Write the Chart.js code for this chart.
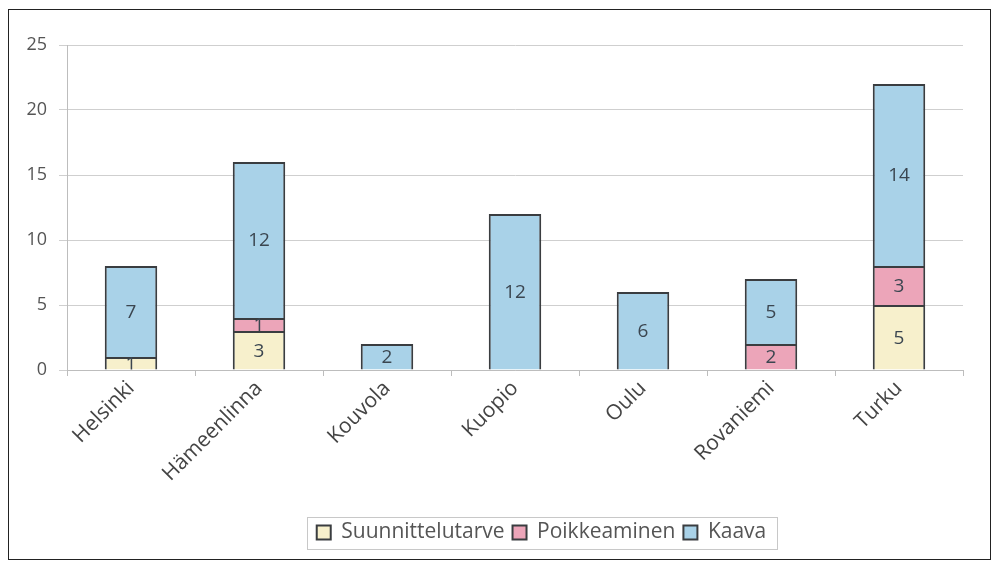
<!DOCTYPE html>
<html>
<head>
<meta charset="utf-8">
<script src="https://cdn.jsdelivr.net/npm/chart.js@4/dist/chart.umd.min.js"></script>
<style>
  html, body { margin: 0; padding: 0; background: #fff; }
  #wrap { width: 999px; height: 568px; }
</style>
</head>
<body>
<div id="wrap"><canvas id="kaavio" width="999" height="568"></canvas></div>
<script>
const kaupungit = ['Helsinki', 'Hämeenlinna', 'Kouvola', 'Kuopio', 'Oulu', 'Rovaniemi', 'Turku'];
const suunnittelutarve = [1, 3, 0, 0, 0, 0, 5];
const poikkeaminen = [0, 1, 0, 0, 0, 2, 3];
const kaava = [7, 12, 2, 12, 6, 5, 14];
const yTicks = [0, 5, 10, 15, 20, 25];

const fontti = '"Open Sans", Lato, sans-serif';
const reuna = '#3a3d40';

// arvot palkkien keskelle, leikattuna palkin sisään
const arvoTekstit = {
    id: 'arvoTekstit',
    afterDatasetsDraw(chart) {
        const ctx = chart.ctx;
        chart.data.datasets.forEach((ds, i) => {
            const meta = chart.getDatasetMeta(i);
            meta.data.forEach((bar, j) => {
                const v = ds.data[j];
                if (!v) return;
                const top = Math.min(bar.y, bar.base);
                const h = Math.abs(bar.base - bar.y);
                ctx.save();
                ctx.beginPath();
                ctx.rect(bar.x - bar.width / 2, top, bar.width, h);
                ctx.clip();
                ctx.font = '19px ' + fontti;
                ctx.textAlign = 'center';
                ctx.textBaseline = 'middle';
                ctx.fillStyle = '#3b4650';
                ctx.fillText(String(v), bar.x, top + h / 2 + 1);
                ctx.restore();
            });
        });
    }
};

// kehys ja legendan laatikko
const kehys = {
    id: 'kehys',
    afterLayout(chart) {
        // legenda hieman oikealle kuten alkuperäisessä
        chart.legend.left += 50;
        chart.legend.right += 50;
    },
    beforeDraw(chart) {
        const ctx = chart.ctx;
        ctx.save();
        ctx.fillStyle = '#fff';
        ctx.fillRect(0, 0, chart.width, chart.height);
        ctx.strokeStyle = '#222';
        ctx.lineWidth = 1;
        ctx.strokeRect(8.5, 9.5, 982, 550);
        ctx.restore();
    },
    afterDraw(chart) {
        const lg = chart.legend;
        const ctx = chart.ctx;
        let minX = Infinity, maxX = -Infinity;
        lg.legendHitBoxes.forEach(b => {
            minX = Math.min(minX, b.left);
            maxX = Math.max(maxX, b.left + b.width);
        });
        const top = lg.legendHitBoxes[0].top;
        const h = lg.legendHitBoxes[0].height;
        ctx.save();
        ctx.strokeStyle = '#c8c8c8';
        ctx.lineWidth = 1;
        ctx.strokeRect(Math.round(minX - 10) + 0.5, Math.round(top + h / 2 - 16) + 0.5, Math.round(maxX - minX + 20), 32);
        ctx.restore();
    }
};

new Chart(document.getElementById('kaavio'), {
    type: 'bar',
    data: {
        labels: kaupungit,
        datasets: [
            { label: 'Suunnittelutarve', data: suunnittelutarve, backgroundColor: '#f7f0cc', borderColor: reuna, borderWidth: 2 },
            { label: 'Poikkeaminen', data: poikkeaminen, backgroundColor: '#eca5b9', borderColor: reuna, borderWidth: 2 },
            { label: 'Kaava', data: kaava, backgroundColor: '#a9d2e8', borderColor: reuna, borderWidth: 2 }
        ]
    },
    options: {
        responsive: false,
        animation: false,
        layout: { padding: { left: 20, right: 36, top: 45, bottom: 15 } },
        datasets: { bar: { categoryPercentage: 0.41, barPercentage: 1 } },
        plugins: {
            legend: {
                position: 'bottom',
                labels: {
                    font: { family: fontti, size: 21 },
                    color: '#555',
                    boxWidth: 14,
                    boxHeight: 14,
                    padding: 8
                }
            },
            tooltip: { enabled: false }
        },
        scales: {
            x: {
                stacked: true,
                grid: { display: true, drawOnChartArea: false, offset: true, color: '#bdbdbd', tickLength: 6 },
                border: { color: '#bdbdbd' },
                ticks: {
                    font: { family: fontti, size: 21 },
                    color: '#444',
                    maxRotation: 45,
                    minRotation: 45,
                    padding: 0
                },
                afterFit(scale) { scale.height = 144; }
            },
            y: {
                stacked: true,
                min: 0,
                max: 25,
                afterBuildTicks(scale) { scale.ticks = yTicks.map(v => ({ value: v })); },
                grid: { color: '#cfcfcf', tickLength: 8 },
                border: { color: '#bdbdbd' },
                ticks: {
                    font: { family: fontti, size: 18 },
                    color: '#555',
                    padding: 12
                },
                afterFit(scale) { scale.width = 47; }
            }
        }
    },
    plugins: [kehys, arvoTekstit]
});
</script>
</body>
</html>
